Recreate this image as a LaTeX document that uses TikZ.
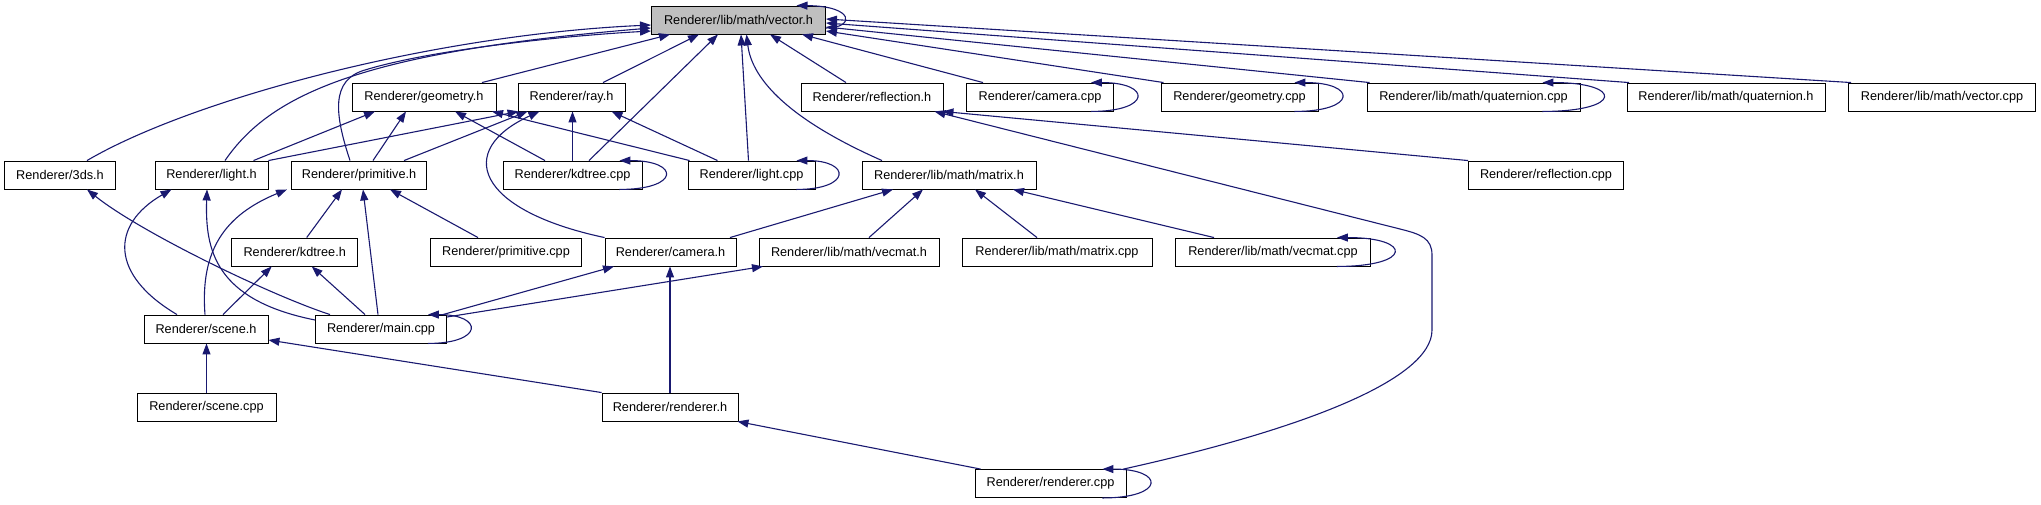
\documentclass[tikz,border=0pt]{standalone}
\usepackage{fontspec}
\setmainfont{Liberation Sans}
\usetikzlibrary{arrows.meta}
\definecolor{edgeblue}{HTML}{191970}
\definecolor{vecgray}{HTML}{BFBFBF}
\begin{document}
\begin{tikzpicture}[x=1pt,y=-1pt,
  box/.style={draw=black, line width=0.9pt, fill=white, inner sep=0pt, minimum height=28pt, font=\fontsize{12.7}{15}\selectfont},
  dep/.style={draw=edgeblue, line width=1.1pt, -{Triangle[length=11pt,width=8pt]}},
]
\useasboundingbox (0,0) rectangle (2041,504);
% row 0
\node[box, fill=vecgray, minimum width=174pt] (vec) at (738.5,20) {Renderer/lib/math/vector.h};
% row 1
\node[box, minimum width=144pt] (geoh) at (424,97) {Renderer/geometry.h};
\node[box, minimum width=107pt] (rayh) at (571.5,97) {Renderer/ray.h};
\node[box, minimum width=142pt] (refh) at (872,97) {Renderer/reflection.h};
\node[box, minimum width=147pt] (camcpp) at (1040,97) {Renderer/camera.cpp};
\node[box, minimum width=157pt] (geocpp) at (1239.5,97) {Renderer/geometry.cpp};
\node[box, minimum width=213pt] (quatcpp) at (1473.5,97) {Renderer/lib/math/quaternion.cpp};
\node[box, minimum width=198pt] (quath) at (1726,97) {Renderer/lib/math/quaternion.h};
\node[box, minimum width=187pt] (veccpp) at (1942,97) {Renderer/lib/math/vector.cpp};
% row 2
\node[box, minimum width=111pt] (ds) at (60,175) {Renderer/3ds.h};
\node[box, minimum width=113pt] (lighth) at (211.5,175) {Renderer/light.h};
\node[box, minimum width=135pt] (primh) at (359,175) {Renderer/primitive.h};
\node[box, minimum width=139pt] (kdcpp) at (572.5,175) {Renderer/kdtree.cpp};
\node[box, minimum width=127pt] (lightcpp) at (751.5,175) {Renderer/light.cpp};
\node[box, minimum width=174pt] (matrixh) at (949,175) {Renderer/lib/math/matrix.h};
\node[box, minimum width=155pt] (refcpp) at (1546,175) {Renderer/reflection.cpp};
% row 3
\node[box, minimum width=126pt] (kdh) at (294.7,252) {Renderer/kdtree.h};
\node[box, minimum width=151pt] (primcpp) at (506,252) {Renderer/primitive.cpp};
\node[box, minimum width=131pt] (camh) at (670.5,252) {Renderer/camera.h};
\node[box, minimum width=180pt] (vecmath) at (849,252) {Renderer/lib/math/vecmat.h};
\node[box, minimum width=190pt] (matcpp) at (1057,252) {Renderer/lib/math/matrix.cpp};
\node[box, minimum width=195pt] (vmcpp) at (1273,252) {Renderer/lib/math/vecmat.cpp};
% row 4
\node[box, minimum width=124pt] (sceneh) at (206,329) {Renderer/scene.h};
\node[box, minimum width=131pt] (maincpp) at (381,329) {Renderer/main.cpp};
% row 5
\node[box, minimum width=139pt] (scenecpp) at (206.5,407) {Renderer/scene.cpp};
\node[box, minimum width=136pt] (rendh) at (670,407) {Renderer/renderer.h};
% row 6
\node[box, minimum width=151pt] (rendcpp) at (1050.5,483.5) {Renderer/renderer.cpp};

% ---- edges into vector.h
\draw[dep] ([xshift=27pt]ds.north) .. controls (190,100) and (430,35) .. ([yshift=-5pt]vec.west);
\draw[dep] ([xshift=13.5pt]lighth.north) .. controls (270,95) and (360,52) .. ([yshift=-8pt]vec.west);
\draw[dep] ([xshift=-9pt]primh.north) .. controls (335,115) and (330,80) .. (365,70) .. controls (430,50) and (560,36) .. ([yshift=-11pt]vec.west);
\draw[dep] ([xshift=58pt]geoh.north) -- ([xshift=-68.5pt]vec.south);
\draw[dep] ([xshift=31.5pt]rayh.north) -- ([xshift=-39.5pt]vec.south);
\draw[dep] ([xshift=16.5pt]kdcpp.north) -- ([xshift=-20.5pt]vec.south);
\draw[dep] ([xshift=-3pt]lightcpp.north) -- ([xshift=2.5pt]vec.south);
\draw[dep] ([xshift=-67pt]matrixh.north) .. controls (790,120) and (752,80) .. ([xshift=8pt]vec.south);
\draw[dep] ([xshift=-26pt]refh.north) -- ([xshift=31.5pt]vec.south);
\draw[dep] ([xshift=-57pt]camcpp.north) -- ([xshift=63.5pt]vec.south);
\draw[dep] ([xshift=-76pt]geocpp.north) -- ([yshift=-11pt]vec.east);
\draw[dep] ([xshift=-104pt]quatcpp.north) -- ([yshift=-7pt]vec.east);
\draw[dep] ([xshift=-97pt]quath.north) -- ([yshift=-3pt]vec.east);
\draw[dep] ([xshift=-91pt]veccpp.north) -- ([yshift=1pt]vec.east);
\draw[dep] ([yshift=-8pt]vec.east) .. controls (855,28) and (855,6) .. ([xshift=58pt]vec.north);

% ---- into geometry.h
\draw[dep] ([xshift=42pt]lighth.north) -- ([xshift=-49pt]geoh.south);
\draw[dep] ([xshift=14pt]primh.north) -- ([xshift=-18pt]geoh.south);
\draw[dep] ([xshift=-27.5pt]kdcpp.north) -- ([xshift=31pt]geoh.south);
\draw[dep] ([xshift=2pt]lightcpp.north west) -- ([xshift=68pt]geoh.south);

% ---- into ray.h
\draw[dep] (lighth.north east) -- ([xshift=1pt]rayh.south west);
\draw[dep] ([xshift=45pt]primh.north) -- ([xshift=-44pt]rayh.south);
\draw[dep] (camh.north west) .. controls (475,210) and (455,150) .. ([xshift=-32pt]rayh.south);
\draw[dep] (kdcpp.north) -- (kdcpp.north |- rayh.south);
\draw[dep] ([xshift=-34pt]lightcpp.north) -- ([xshift=40pt]rayh.south);

% ---- into light.h
\draw[dep] ([xshift=-29pt]sceneh.north) .. controls (110,275) and (110,225) .. ([xshift=-40pt]lighth.south);
\draw[dep] ([yshift=9pt]maincpp.west) .. controls (215,300) and (205,250) .. ([xshift=-4.5pt]lighth.south);

% ---- into primitive.h
\draw[dep] ([xshift=-1pt]sceneh.north) .. controls (200,250) and (225,215) .. ([xshift=-72pt]primh.south);
\draw[dep] ([xshift=12pt]kdh.north) -- ([xshift=-17pt]primh.south);
\draw[dep] ([xshift=-3pt]maincpp.north) -- ([xshift=4pt]primh.south);
\draw[dep] ([xshift=-28pt]primcpp.north) -- ([xshift=31pt]primh.south);

% ---- into kdtree.h
\draw[dep] ([xshift=17pt]sceneh.north) -- ([xshift=-23pt]kdh.south);
\draw[dep] ([xshift=-16pt]maincpp.north) -- ([xshift=17pt]kdh.south);

% ---- into 3ds.h
\draw[dep] ([xshift=-51pt]maincpp.north) .. controls (270,295) and (140,232) .. ([xshift=27pt]ds.south);

% ---- into camera.h / vecmat.h
\draw[dep] ([xshift=-4pt]maincpp.north east) -- ([xshift=-56.5pt]camh.south);
\draw[dep] (rendh.north) -- (rendh.north |- camh.south);
\draw[dep] ([yshift=12pt]maincpp.east) -- ([xshift=-86pt]vecmath.south);

% ---- into matrix.h
\draw[dep] ([xshift=59.5pt]camh.north) -- ([xshift=-56pt]matrixh.south);
\draw[dep] ([xshift=20pt]vecmath.north) -- ([xshift=-26pt]matrixh.south);
\draw[dep] ([xshift=-20pt]matcpp.north) -- ([xshift=26pt]matrixh.south);
\draw[dep] ([xshift=-59pt]vmcpp.north) -- ([xshift=64pt]matrixh.south);

% ---- into reflection.h
\draw[dep] (refcpp.north west) -- ([xshift=-1pt]refh.south east);
\draw[dep] ([xshift=-3pt]rendcpp.north east) .. controls (1300,430) and (1432,380) .. (1432,330) -- (1432,255) .. controls (1432,238) and (1420,234) .. (1400,229) -- ([xshift=-9pt]refh.south east);

% ---- scene.h / renderer.h
\draw[dep] (rendh.north west) -- ([yshift=-11pt]sceneh.east);
\draw[dep] (scenecpp.north) -- (scenecpp.north |- sceneh.south);
\draw[dep] ([xshift=-70pt]rendcpp.north) -- ([xshift=-1pt]rendh.south east);

% ---- self loops
\draw[dep] ([xshift=-23pt]kdcpp.south east) .. controls +(61,0) and +(61,0) .. ([xshift=-23pt]kdcpp.north east);
\draw[dep] ([xshift=-19pt]lightcpp.south east) .. controls +(55,0) and +(55,0) .. ([xshift=-19pt]lightcpp.north east);
\draw[dep] ([xshift=-23pt]camcpp.south east) .. controls +(61,0) and +(61,0) .. ([xshift=-23pt]camcpp.north east);
\draw[dep] ([xshift=-24pt]geocpp.south east) .. controls +(63,0) and +(63,0) .. ([xshift=-24pt]geocpp.north east);
\draw[dep] ([xshift=-38pt]quatcpp.south east) .. controls +(81,0) and +(81,0) .. ([xshift=-38pt]quatcpp.north east);
\draw[dep] ([xshift=-34pt]vmcpp.south east) .. controls +(76,0) and +(76,0) .. ([xshift=-34pt]vmcpp.north east);
\draw[dep] ([xshift=-19pt]maincpp.south east) .. controls +(56,0) and +(56,0) .. ([xshift=-19pt]maincpp.north east);
\draw[dep] ([xshift=-24pt]rendcpp.south east) .. controls +(63,0) and +(63,0) .. ([xshift=-24pt]rendcpp.north east);
\end{tikzpicture}
\end{document}
